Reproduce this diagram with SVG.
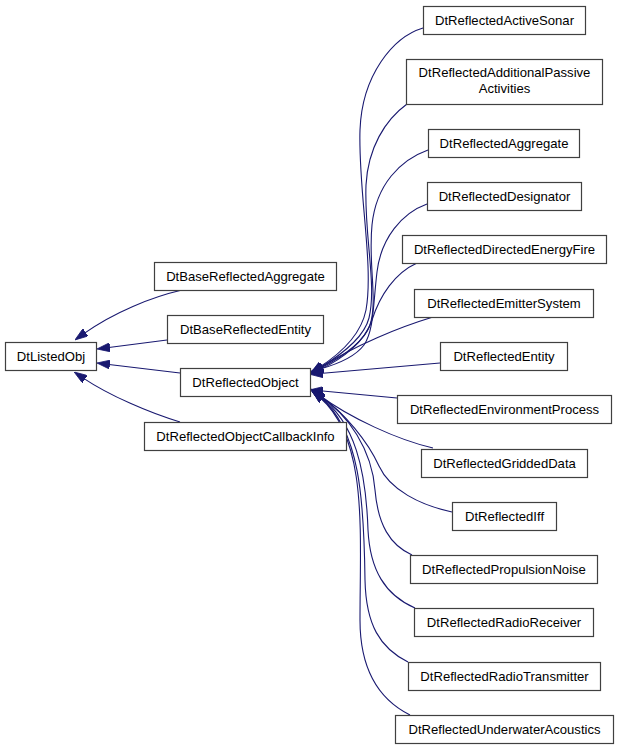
<svg xmlns="http://www.w3.org/2000/svg" width="619" height="749" viewBox="0 0 619 749">
<style>
.n rect{fill:#ffffff;stroke:#404040;stroke-width:1.2}
.n text{font-family:"Liberation Sans",Arial,Helvetica,sans-serif;font-size:13.1px;fill:#000000;text-anchor:middle}
.e path{fill:none;stroke:#191970;stroke-width:1.1}
</style>
<defs>
<marker id="ah" viewBox="0 0 13 9" refX="3" refY="4.5" markerWidth="13" markerHeight="9" markerUnits="userSpaceOnUse" orient="auto">
<path d="M0,0 L13,4.5 L0,9 z" fill="#191970" stroke="#191970" stroke-width="0.8"/>
</marker>
</defs>
<rect width="619" height="749" fill="#ffffff"/>
<g id="connectors" class="e">
<path marker-end="url(#ah)" d="M182,290 C152,297 114,312 83.1,334.1"/>
<path marker-end="url(#ah)" d="M167,340 L106.9,347.7"/>
<path marker-end="url(#ah)" d="M180,373 L106.9,364.2"/>
<path marker-end="url(#ah)" d="M180,422 C150,413 110,396 82.5,377.6"/>
<path marker-end="url(#ah)" d="M423,28 C393,37 362,75 360,130 C358,190 374,265 366,310 C361,335 340,354 319,367.5"/>
<path marker-end="url(#ah)" d="M407,104 C385,120 368,148 366,185 C364,235 377,285 369,318 C364,338 341,355 319.5,368"/>
<path marker-end="url(#ah)" d="M428,150 C400,160 376,185 372,225 C368,265 378,300 370,325 C364,342 342,357 320,368.5"/>
<path marker-end="url(#ah)" d="M427,204 C402,213 381,238 377,272 C373,305 374,330 364,345 C355,357 338,364 320,369"/>
<path marker-end="url(#ah)" d="M417,263 C395,273 380,295 372,320 C365,342 342,359 320,369.5"/>
<path marker-end="url(#ah)" d="M433,317 C400,327 355,345 319,368.5"/>
<path marker-end="url(#ah)" d="M440,363 L320,373.5"/>
<path marker-end="url(#ah)" d="M397,398 L320,390.8"/>
<path marker-end="url(#ah)" d="M433,448 C398,440 350,418 319,395"/>
<path marker-end="url(#ah)" d="M452,512 C420,505 390,490 379,466 C368,442 345,413 320,396"/>
<path marker-end="url(#ah)" d="M412,555 C390,545 378,525 375,490 C372,450 348,414 320,396.5"/>
<path marker-end="url(#ah)" d="M415,608 C385,595 370,570 368,530 C366,470 355,422 320,397"/>
<path marker-end="url(#ah)" d="M408,662 C380,648 366,625 365,580 C364,500 360,430 320,397"/>
<path marker-end="url(#ah)" d="M410,715 C380,700 360,670 360,620 C360,530 368,440 320,397.5"/>
</g>
<g id="DtListedObj" class="n"><rect x="5.5" y="342.5" width="91" height="28"/><text x="51" y="361">DtListedObj</text></g>
<g id="DtBaseReflectedAggregate" class="n"><rect x="154.5" y="262.5" width="182" height="28"/><text x="245.5" y="281">DtBaseReflectedAggregate</text></g>
<g id="DtBaseReflectedEntity" class="n"><rect x="167.5" y="315.5" width="156" height="28"/><text x="245.5" y="334">DtBaseReflectedEntity</text></g>
<g id="DtReflectedObject" class="n"><rect x="180.5" y="368.5" width="130" height="28"/><text x="245.5" y="387">DtReflectedObject</text></g>
<g id="DtReflectedObjectCallbackInfo" class="n"><rect x="144.5" y="422.5" width="202" height="28"/><text x="245.5" y="441">DtReflectedObjectCallbackInfo</text></g>
<g id="DtReflectedActiveSonar" class="n"><rect x="423.5" y="6.5" width="162" height="28"/><text x="504.5" y="25">DtReflectedActiveSonar</text></g>
<g id="DtReflectedAdditionalPassiveActivities" class="n"><rect x="406.5" y="59.5" width="196" height="45"/><text x="504.5" y="77">DtReflectedAdditionalPassive</text><text x="504.5" y="93">Activities</text></g>
<g id="DtReflectedAggregate" class="n"><rect x="428.5" y="129.5" width="151" height="28"/><text x="504" y="148">DtReflectedAggregate</text></g>
<g id="DtReflectedDesignator" class="n"><rect x="427.5" y="182.5" width="154" height="28"/><text x="504.5" y="201">DtReflectedDesignator</text></g>
<g id="DtReflectedDirectedEnergyFire" class="n"><rect x="402.5" y="235.5" width="204" height="28"/><text x="504.5" y="254">DtReflectedDirectedEnergyFire</text></g>
<g id="DtReflectedEmitterSystem" class="n"><rect x="414.5" y="289.5" width="179" height="28"/><text x="504" y="308">DtReflectedEmitterSystem</text></g>
<g id="DtReflectedEntity" class="n"><rect x="440.5" y="342.5" width="127" height="28"/><text x="504" y="361">DtReflectedEntity</text></g>
<g id="DtReflectedEnvironmentProcess" class="n"><rect x="397.5" y="395.5" width="214" height="28"/><text x="504.5" y="414">DtReflectedEnvironmentProcess</text></g>
<g id="DtReflectedGriddedData" class="n"><rect x="421.5" y="449.5" width="166" height="28"/><text x="504.5" y="468">DtReflectedGriddedData</text></g>
<g id="DtReflectedIff" class="n"><rect x="452.5" y="502.5" width="104" height="28"/><text x="504.5" y="521">DtReflectedIff</text></g>
<g id="DtReflectedPropulsionNoise" class="n"><rect x="410.5" y="555.5" width="187" height="28"/><text x="504" y="574">DtReflectedPropulsionNoise</text></g>
<g id="DtReflectedRadioReceiver" class="n"><rect x="414.5" y="608.5" width="179" height="28"/><text x="504" y="627">DtReflectedRadioReceiver</text></g>
<g id="DtReflectedRadioTransmitter" class="n"><rect x="408.5" y="662.5" width="192" height="28"/><text x="504.5" y="681">DtReflectedRadioTransmitter</text></g>
<g id="DtReflectedUnderwaterAcoustics" class="n"><rect x="395.5" y="715.5" width="218" height="28"/><text x="504.5" y="734">DtReflectedUnderwaterAcoustics</text></g>
</svg>
